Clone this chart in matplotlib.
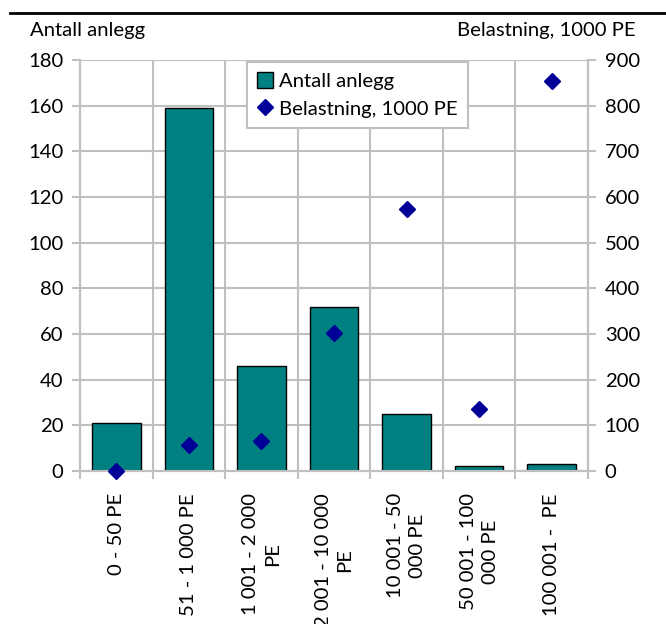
import matplotlib
matplotlib.use("Agg")
import matplotlib.pyplot as plt
from matplotlib.lines import Line2D
from matplotlib.patches import Patch
import numpy as np

plt.rcParams["font.family"] = ["Lato", "DejaVu Sans"]

# size classes of the treatment plants
categories = [
    "0 - 50 PE",
    "51 - 1 000 PE",
    "1 001 - 2 000\nPE",
    "2 001 - 10 000\nPE",
    "10 001 - 50\n000 PE",
    "50 001 - 100\n000 PE",
    "100 001 -  PE",
]
antall_anlegg = [21, 159, 46, 72, 25, 2, 3]
belastning = [0, 58, 66, 302, 574, 136, 854]

left_ticks = list(range(0, 181, 20))
right_ticks = list(range(0, 901, 100))

teal = "#008080"
navy = "#000099"
grid_gray = "#c0c0c0"
fs = 14.6

fig = plt.figure(figsize=(6.66, 6.24), dpi=100)
ax = fig.add_axes([80 / 666, 1 - 471 / 624, 508 / 666, 411 / 624])
ax2 = ax.twinx()

x = np.arange(len(categories))
ax.bar(x, antall_anlegg, width=0.67, color=teal, edgecolor="black",
       linewidth=1.0, zorder=3)
ax2.plot(x, belastning, linestyle="none", marker="D", markersize=7.8,
         color=navy, zorder=4, clip_on=False)

ax.set_xlim(-0.5, len(categories) - 0.5)
ax.set_ylim(0, 180)
ax2.set_ylim(0, 900)
ax.set_yticks(left_ticks)
ax2.set_yticks(right_ticks)

# category boundaries as minor ticks, labels on the centres
ax.set_xticks(x)
ax.set_xticklabels(categories, rotation=90, fontsize=fs, ha="center",
                   va="top", multialignment="center", linespacing=1.35)
ax.set_xticks(np.arange(-0.5, len(categories)), minor=True)
ax.tick_params(axis="x", which="major", length=0, pad=16)
ax.tick_params(axis="x", which="minor", length=6, width=1.5,
               color=grid_gray)
ax.tick_params(axis="y", length=6, width=1.5, color=grid_gray,
               labelsize=fs, pad=6)
ax2.tick_params(axis="y", length=6, width=1.5, color=grid_gray,
                labelsize=fs, pad=6)

ax.grid(axis="y", which="major", color=grid_gray, linewidth=1.5, zorder=0)
ax.grid(axis="x", which="minor", color=grid_gray, linewidth=1.5, zorder=0)
ax.set_axisbelow(True)

for a in (ax, ax2):
    for side in ("left", "right", "bottom"):
        a.spines[side].set_color(grid_gray)
        a.spines[side].set_linewidth(1.5)
    a.spines["top"].set_visible(False)

handles = [
    Patch(facecolor=teal, edgecolor="black", linewidth=1.0),
    Line2D([], [], linestyle="none", marker="D", markersize=7.8, color=navy),
]
leg = ax2.legend(handles, ["Antall anlegg", "Belastning, 1000 PE"],
                 loc="upper left", bbox_to_anchor=(247 / 666, 1 - 62 / 624),
                 bbox_transform=fig.transFigure, fontsize=fs, frameon=True,
                 fancybox=False, framealpha=1, edgecolor=grid_gray,
                 handlelength=0.8, handleheight=0.8, handletextpad=0.3,
                 borderpad=0.5, labelspacing=0.5, borderaxespad=0)
leg.get_frame().set_linewidth(1.5)

fig.text(30.5 / 666, 1 - 35.7 / 624, "Antall anlegg", fontsize=fs,
         ha="left", va="baseline")
fig.text(636 / 666, 1 - 35.7 / 624, "Belastning, 1000 PE", fontsize=fs,
         ha="right", va="baseline")
fig.add_artist(Line2D([10 / 666, 1], [1 - 12.7 / 624] * 2, color="black",
                      linewidth=2, transform=fig.transFigure))

fig.savefig("out.png", dpi=100)
